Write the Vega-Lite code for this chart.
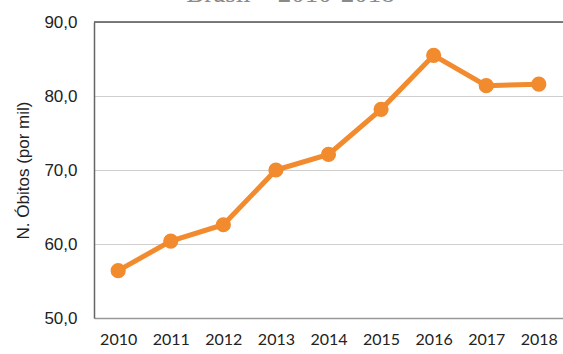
{
  "$schema": "https://vega.github.io/schema/vega-lite/v6.json",
  "autosize": {"type": "none"},
  "width": 469,
  "height": 296,
  "padding": {"left": 94, "top": 22, "right": 0, "bottom": 36},
  "background": "white",
  "title": {
    "text": "Brasil – 2010-2018",
    "font": "Liberation Serif",
    "fontSize": 27,
    "fontWeight": "normal",
    "color": "#8a8a8a",
    "anchor": "middle",
    "dx": -38,
    "dy": 16,
    "offset": 0,
    "baseline": "alphabetic"
  },
  "data": {
    "values": [
      {"ano": "2010", "obitos": 56.4},
      {"ano": "2011", "obitos": 60.4},
      {"ano": "2012", "obitos": 62.6},
      {"ano": "2013", "obitos": 70.0},
      {"ano": "2014", "obitos": 72.1},
      {"ano": "2015", "obitos": 78.2},
      {"ano": "2016", "obitos": 85.5},
      {"ano": "2017", "obitos": 81.4},
      {"ano": "2018", "obitos": 81.6}
    ]
  },
  "config": {
    "view": {"stroke": null},
    "axis": {"domain": true, "ticks": false}
  },
  "encoding": {
    "x": {
      "field": "ano",
      "type": "ordinal",
      "scale": {"type": "point", "padding": 0.46},
      "axis": {
        "title": null,
        "labelAngle": 0,
        "labelFont": "Lato",
        "labelFontSize": 16,
        "labelColor": "#222",
        "labelPadding": 13,
        "domainColor": "#999",
        "domainWidth": 1.5,
        "grid": false
      }
    },
    "y": {
      "field": "obitos",
      "type": "quantitative",
      "scale": {"domain": [50, 90], "nice": false, "zero": false},
      "axis": {
        "title": "N. Óbitos (por mil)",
        "titleFont": "Liberation Sans",
        "titleFontSize": 17,
        "titleFontWeight": "normal",
        "titleColor": "#222",
        "titlePadding": 11,
        "values": [50, 60, 70, 80, 90],
        "labelExpr": "replace(format(datum.value, '.1f'), '.', ',')",
        "labelFont": "Liberation Sans",
        "labelFontSize": 17,
        "labelColor": "#222",
        "labelPadding": 17,
        "domainColor": "#666",
        "domainWidth": 1.5,
        "grid": true,
        "gridColor": "#cfcfcf",
        "gridWidth": 1
      }
    }
  },
  "layer": [
    {
      "mark": {"type": "rule", "color": "#555", "strokeWidth": 1.5},
      "data": {"values": [{"top": 90}]},
      "encoding": {"y": {"field": "top", "type": "quantitative"}, "x": null}
    },
    {
      "mark": {"type": "line", "color": "#F28A2E", "strokeWidth": 5}
    },
    {
      "mark": {"type": "point", "filled": true, "color": "#F28A2E", "size": 230, "opacity": 1}
    }
  ]
}
